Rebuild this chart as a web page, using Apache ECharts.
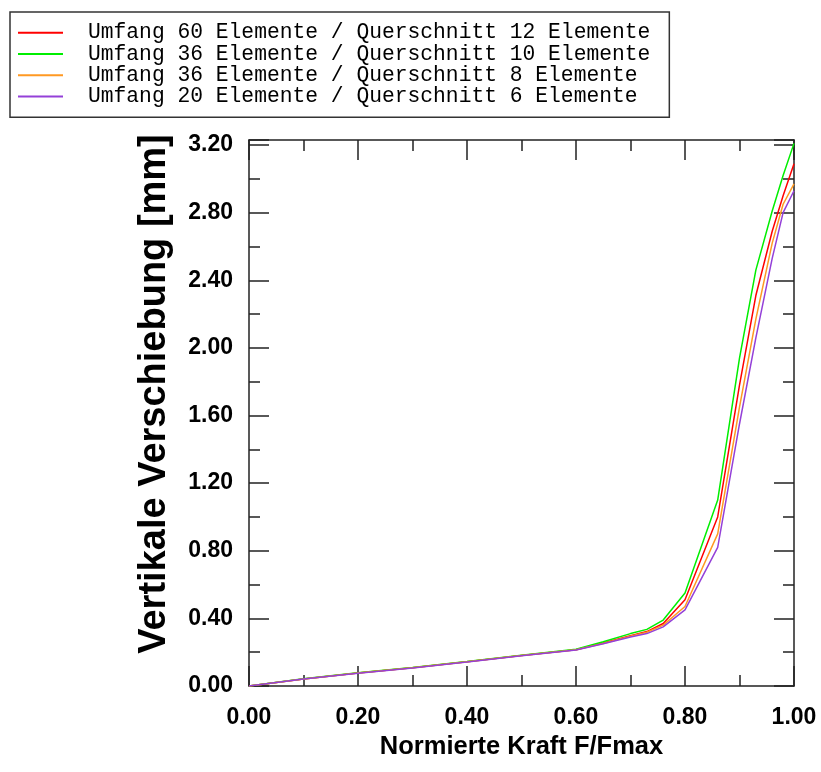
<!DOCTYPE html>
<html>
<head>
<meta charset="utf-8">
<script src="https://cdn.jsdelivr.net/npm/echarts@6/dist/echarts.min.js"></script>
<style>html,body{margin:0;padding:0;background:#fff}#c{width:821px;height:772px}</style>
</head>
<body>
<div id="c"></div>
<script>
// Data
const xValues = [0, 0.1, 0.2, 0.3, 0.4, 0.5, 0.6, 0.65, 0.7, 0.73, 0.76, 0.8, 0.86, 0.9, 0.93, 0.96, 0.98, 1.0];
const seriesNames = [
  'Umfang 60 Elemente / Querschnitt 12 Elemente',
  'Umfang 36 Elemente / Querschnitt 10 Elemente',
  'Umfang 36 Elemente / Querschnitt 8 Elemente',
  'Umfang 20 Elemente / Querschnitt 6 Elemente'
];
const red    = [0, 0.042, 0.077, 0.108, 0.143, 0.180, 0.215, 0.255, 0.298, 0.322, 0.37, 0.51, 1.00, 1.78, 2.31, 2.69, 2.90, 3.09];
const green  = [0, 0.043, 0.078, 0.110, 0.145, 0.182, 0.218, 0.262, 0.310, 0.335, 0.39, 0.55, 1.10, 1.94, 2.46, 2.81, 3.02, 3.21];
const orange = [0, 0.042, 0.077, 0.108, 0.143, 0.180, 0.215, 0.252, 0.295, 0.318, 0.36, 0.47, 0.90, 1.65, 2.17, 2.62, 2.85, 2.97];
const purple = [0, 0.041, 0.076, 0.107, 0.142, 0.179, 0.213, 0.250, 0.290, 0.310, 0.35, 0.45, 0.82, 1.55, 2.06, 2.53, 2.80, 2.93];
const xTickLabels = ['0.00', '0.20', '0.40', '0.60', '0.80', '1.00'];
const colors = ['#ff0000', '#00ee00', '#ff9922', '#9440d8'];

const allSeries = [red, green, orange, purple];
const chart = echarts.init(document.getElementById('c'), null, {renderer: 'canvas'});

const frameLine = {show: true, onZero: false, lineStyle: {color: '#222', width: 1.5}};
const tickCommon = {show: true, inside: true, length: 20, lineStyle: {color: '#222', width: 1.5}};
const minorCommon = {show: true, splitNumber: 2, length: 11, lineStyle: {color: '#222', width: 1.5}};
const labelFont = {fontFamily: 'Liberation Sans', fontWeight: 'bold', fontSize: 23, color: '#000'};

chart.setOption({
  animation: false,
  backgroundColor: '#fff',
  legend: {
    left: 10, top: 12, orient: 'vertical',
    padding: [10, 19, 10, 8],
    borderColor: '#333', borderWidth: 1.5, backgroundColor: '#fff',
    itemGap: 0, itemWidth: 45, itemHeight: 2, icon: 'rect',
    selectedMode: false,
    textStyle: {fontFamily: 'Liberation Mono', fontSize: 21.3, color: '#000', lineHeight: 21.3, padding: [0, 0, 0, 20]},
    data: seriesNames
  },
  grid: {left: 249, right: 27, top: 140, bottom: 86},
  xAxis: [{
    type: 'value', min: 0, max: 1, interval: 0.2, position: 'bottom',
    axisLine: frameLine, axisTick: tickCommon, minorTick: minorCommon,
    splitLine: {show: false},
    axisLabel: Object.assign({margin: 20, formatter: v => xTickLabels[Math.round(v / 0.2)]}, labelFont),
    name: 'Normierte Kraft F/Fmax', nameLocation: 'middle', nameGap: 40,
    nameTextStyle: {fontFamily: 'Liberation Sans', fontWeight: 'bold', fontSize: 25.5, color: '#000'}
  }, {
    type: 'value', min: 0, max: 1, interval: 0.2, position: 'top',
    axisLine: frameLine, axisTick: tickCommon, minorTick: minorCommon,
    splitLine: {show: false}, axisLabel: {show: false}
  }],
  yAxis: [{
    type: 'value', min: 0, max: 3.23, interval: 0.4, position: 'left',
    axisLine: frameLine, axisTick: tickCommon, minorTick: minorCommon,
    splitLine: {show: false},
    axisLabel: Object.assign({margin: 16, showMaxLabel: false, formatter: v => v.toFixed(2)}, labelFont),
    name: 'Vertikale Verschiebung [mm]', nameLocation: 'middle', nameGap: 75,
    nameTextStyle: {fontFamily: 'Liberation Sans', fontWeight: 'bold', fontSize: 38, color: '#000', padding: [0, 0, 0, 38]}
  }, {
    type: 'value', min: 0, max: 3.23, interval: 0.4, position: 'right',
    axisLine: frameLine, axisTick: tickCommon, minorTick: minorCommon,
    splitLine: {show: false}, axisLabel: {show: false}
  }],
  series: allSeries.map((arr, i) => ({
    name: seriesNames[i], type: 'line', xAxisIndex: 0, yAxisIndex: 0,
    showSymbol: false, symbol: 'none',
    lineStyle: {color: colors[i], width: 1.5},
    itemStyle: {color: colors[i]},
    data: xValues.map((x, j) => [x, arr[j]])
  }))
});
</script>
</body>
</html>
